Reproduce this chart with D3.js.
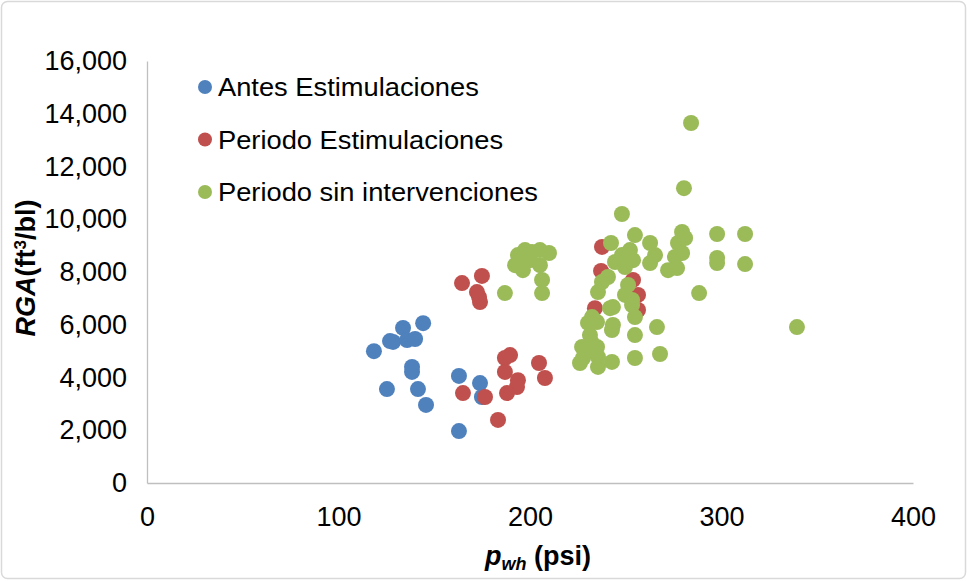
<!DOCTYPE html>
<html>
<head>
<meta charset="utf-8">
<script src="https://cdn.jsdelivr.net/npm/d3@7"></script>
<style>
  html, body { margin: 0; padding: 0; background: #fff; }
  svg { display: block; }
  text { font-family: "Liberation Sans", Arial, sans-serif; fill: #000; }
</style>
</head>
<body>
<svg id="chart" width="967" height="581"></svg>
<script>
// ---------- data ----------
const seriesNames = ["Antes Estimulaciones", "Periodo Estimulaciones", "Periodo sin intervenciones"];
const seriesColors = ["#4F81BD", "#C0504D", "#9BBB59"];

const antesX = [118.5,126.9,128.5,133.7,135.8,140,144.2,138.4,138.4,125.3,141.5,145.7,162.9,173.9,174.9,162.9];
const antesY = [5000,5380,5350,5880,5420,5460,6060,4400,4210,3560,3560,2960,4060,3790,3260,1970];

const estimX = [164.5,174.9,172.3,173.4,173.9,189.6,186.9,186.9,193.7,193.2,188,204.7,207.8,165,176.5,183.3,237.6,237.1,233.9,253.8,256.4,256.4,239.2];
const estimY = [7580,7850,7240,7050,6860,4850,4740,4210,3900,3640,3410,4550,3980,3410,3260,2390,8950,8040,6630,7700,7130,6560,7850];

const sinX = [186.9,193.7,197.4,201,205.2,209.9,192.2,196.3,200,205.2,206.3,206.3,194.8,
  284.1,280.4,248,254.8,242.3,262.7,265.3,279.4,281,277.3,279.4,275.7,272.1,276.8,297.7,297.7,297.7,312.3,312.3,288.3,339.4,
  248,252.2,253.8,249.6,244.4,262.7,240.7,237.6,235.5,251.2,249.6,253.3,253.3,241.8,243.3,232.4,254.8,235,230.3,243.3,242.8,
  266.3,254.8,231.3,227.2,235,227.7,226.1,235.5,235.5,242.8,254.8,267.9,229,232];
const sinY = [7200,8640,8830,8760,8830,8720,8260,8070,8450,8260,7700,7200,8450,
  13650,11180,10200,9400,9100,9100,8640,9520,9290,9100,8720,8570,8070,8150,9440,8530,8340,9440,8300,7200,5910,
  8640,8830,8450,8190,8380,8340,7810,7620,7240,7510,7130,6940,6750,6630,6670,6290,6290,6100,6070,5990,5800,
  5910,5610,5610,5160,5160,4740,4550,4780,4400,4590,4740,4890,4950,5350];

const xTicks = [0, 100, 200, 300, 400];
const yTicks = [0, 2000, 4000, 6000, 8000, 10000, 12000, 14000, 16000];

// ---------- layout ----------
const svg = d3.select("#chart");
const W = 967, H = 581;
const plot = { left: 147, right: 913, top: 61, bottom: 483 };

svg.append("rect")
  .attr("x", 1.5).attr("y", 1.5).attr("width", W - 3).attr("height", H - 4)
  .attr("rx", 6).attr("fill", "#fff").attr("stroke", "#d9d9d9").attr("stroke-width", 1.5);

const x = d3.scaleLinear().domain([0, 400]).range([plot.left, plot.right]);
const y = d3.scaleLinear().domain([0, 16000]).range([plot.bottom, plot.top]);

const fmt = d3.format(",");

// axes
const xAxis = svg.append("g").attr("transform", `translate(0,${plot.bottom})`)
  .call(d3.axisBottom(x).tickValues(xTicks).tickSize(0).tickPadding(24).tickFormat(d3.format("d")));
const yAxis = svg.append("g").attr("transform", `translate(${plot.left},0)`)
  .call(d3.axisLeft(y).tickValues(yTicks).tickSize(0).tickPadding(20).tickFormat(fmt));

[xAxis, yAxis].forEach(g => {
  g.select(".domain").attr("stroke", "#bfbfbf").attr("stroke-width", 1.3);
  g.selectAll("text").attr("font-size", 27).attr("font-family", '"Liberation Sans", Arial, sans-serif').attr("fill", "#000");
});

// series
const series = [
  { xs: antesX, ys: antesY },
  { xs: estimX, ys: estimY },
  { xs: sinX, ys: sinY }
];
series.forEach((s, i) => {
  svg.append("g").selectAll("circle")
    .data(d3.range(s.xs.length))
    .join("circle")
    .attr("cx", j => x(s.xs[j]))
    .attr("cy", j => y(s.ys[j]))
    .attr("r", 8)
    .attr("fill", seriesColors[i]);
});

// legend
const legend = svg.append("g");
seriesNames.forEach((name, i) => {
  const ly = 87 + i * 52.5;
  legend.append("circle").attr("cx", 205).attr("cy", ly).attr("r", 7).attr("fill", seriesColors[i]);
  legend.append("text").attr("transform", `translate(218,${ly}) scale(1.05,1)`).attr("dy", "0.35em")
    .attr("font-size", 26).text(name);
});

// x axis title
const xt = svg.append("text").attr("x", (plot.left + plot.right) / 2 + 8).attr("y", 565)
  .attr("text-anchor", "middle").attr("font-weight", "bold").attr("font-size", 27);
xt.append("tspan").attr("font-style", "italic").text("p");
xt.append("tspan").attr("font-style", "italic").attr("font-size", 18).attr("dy", 5).text("wh");
xt.append("tspan").attr("dy", -5).text(" (psi)");

// y axis title
const yt = svg.append("text")
  .attr("transform", `translate(35,${(plot.top + plot.bottom) / 2 - 4}) rotate(-90)`)
  .attr("text-anchor", "middle").attr("font-weight", "bold").attr("font-size", 27);
yt.append("tspan").attr("font-style", "italic").text("RGA");
yt.append("tspan").text("(ft");
yt.append("tspan").attr("font-size", 17).attr("dy", -9).text("3");
yt.append("tspan").attr("dy", 9).text("/bl)");
</script>
</body>
</html>
